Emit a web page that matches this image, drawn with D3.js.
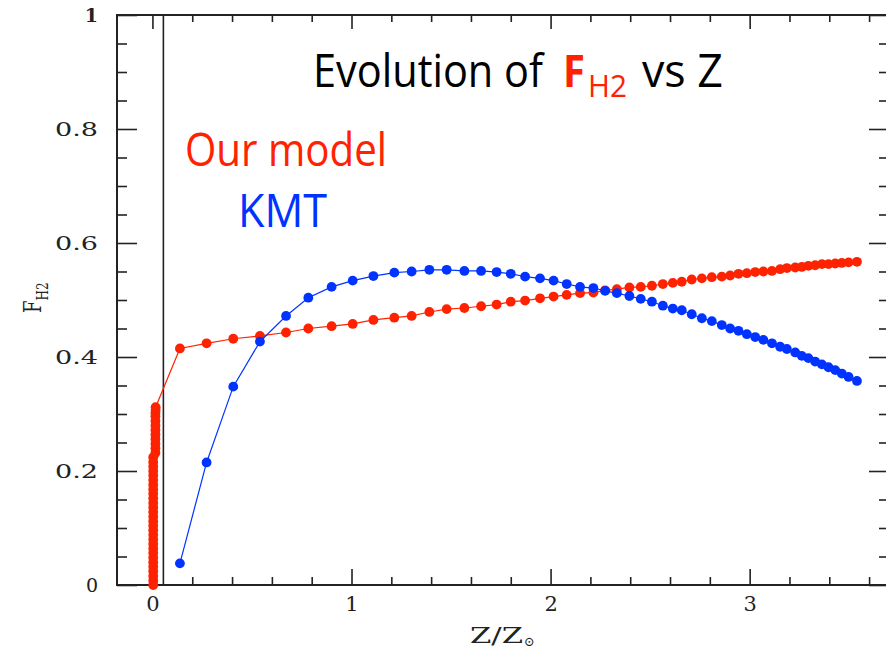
<!DOCTYPE html>
<html>
<head>
<meta charset="utf-8">
<script src="https://cdn.jsdelivr.net/npm/d3@7"></script>
<style>
  html, body { margin: 0; padding: 0; background: #fff; }
  svg { display: block; }
</style>
</head>
<body>
<div id="chart"></div>
<script>

// Z / Z_sun positions shared by both curves
const zVals = [0.138, 0.272, 0.406, 0.540, 0.671, 0.783, 0.900, 1.006, 1.110, 1.215,
               1.302, 1.391, 1.478, 1.567, 1.651, 1.729, 1.800, 1.872, 1.947, 2.015,
               2.081, 2.148, 2.215, 2.274, 2.333, 2.396, 2.453, 2.509, 2.564, 2.614,
               2.659, 2.709, 2.760, 2.810, 2.860, 2.902, 2.944, 2.986, 3.028, 3.069,
               3.112, 3.153, 3.187, 3.229, 3.262, 3.295, 3.329, 3.363, 3.396, 3.430,
               3.463, 3.497, 3.539];

// "Our model" F_H2
const modelF = [0.415, 0.424, 0.432, 0.437, 0.443, 0.450, 0.454, 0.458, 0.465, 0.469,
                0.472, 0.479, 0.484, 0.486, 0.489, 0.492, 0.497, 0.499, 0.503, 0.506,
                0.509, 0.512, 0.513, 0.517, 0.519, 0.522, 0.523, 0.525, 0.528, 0.530,
                0.532, 0.536, 0.538, 0.540, 0.541, 0.543, 0.546, 0.547, 0.549, 0.550,
                0.551, 0.554, 0.556, 0.557, 0.558, 0.560, 0.561, 0.563, 0.563, 0.564,
                0.565, 0.566, 0.567];

// KMT F_H2
const kmtF = [0.038, 0.215, 0.348, 0.427, 0.472, 0.504, 0.523, 0.534, 0.542, 0.548,
              0.550, 0.553, 0.553, 0.551, 0.551, 0.549, 0.546, 0.541, 0.538, 0.534,
              0.528, 0.523, 0.521, 0.516, 0.512, 0.507, 0.502, 0.497, 0.490, 0.485,
              0.482, 0.475, 0.468, 0.463, 0.456, 0.450, 0.446, 0.440, 0.435, 0.430,
              0.424, 0.418, 0.414, 0.408, 0.402, 0.398, 0.392, 0.387, 0.382, 0.377,
              0.371, 0.365, 0.358];

// the pile of model points sitting right on Z ~ 0 (two stacked columns)
const clumpZ = [0.004, 0.004, 0.004, 0.004, 0.004, 0.004, 0.004, 0.004, 0.004, 0.004,
                0.004, 0.004, 0.004, 0.004, 0.004, 0.004, 0.004, 0.004, 0.004, 0.004,
                0.004, 0.004, 0.004, 0.004, 0.004, 0.004, 0.004, 0.004, 0.004,
                0.015, 0.015, 0.015, 0.015, 0.015, 0.015, 0.015, 0.015, 0.015, 0.015,
                0.016, 0.016];
const clumpF = [0.000, 0.008, 0.016, 0.024, 0.032, 0.040, 0.048, 0.056, 0.064, 0.072,
                0.080, 0.088, 0.096, 0.104, 0.112, 0.120, 0.128, 0.136, 0.144, 0.152,
                0.160, 0.168, 0.176, 0.184, 0.192, 0.200, 0.208, 0.216, 0.224,
                0.232, 0.240, 0.248, 0.256, 0.264, 0.272, 0.280, 0.288, 0.296, 0.302,
                0.307, 0.312];

const refZ = 0.055;   // vertical marker line near zero

const yTicks = [0, 0.2, 0.4, 0.6, 0.8, 1];
const yTickLabels = ['0', '0.2', '0.4', '0.6', '0.8', '1'];
const xTicks = [0, 1, 2, 3];
const xTickLabels = ['0', '1', '2', '3'];

const RED = '#ff2200';
const BLUE = '#0033ff';
const INK = '#222';

const width = 886, height = 648;

const svg = d3.select('#chart')
    .append('svg')
    .attr('width', width)
    .attr('height', height);

const xScale = d3.scaleLinear().domain([-0.178, 3.70]).range([117, 889]);
const yScale = d3.scaleLinear().domain([0, 1]).range([585, 15]);

const x0 = xScale.range()[0], x1 = xScale.range()[1];
const y0 = yScale.range()[0], y1 = yScale.range()[1];

// minor tick positions
const yMinor = d3.range(0.05, 1, 0.05).filter(v => Math.abs(v * 5 - Math.round(v * 5)) > 1e-6);
const xMinor = d3.range(0.2, 3.7, 0.2).filter(v => Math.abs(v - Math.round(v)) > 1e-6);

const serif = "'DejaVu Serif', 'Liberation Serif', serif";

// ---- axes (ticks pointing inward) ----
function styleAxis(g) {
  g.select('.domain').remove();
  g.selectAll('line').attr('stroke', INK).attr('stroke-width', 1.6);
}

svg.append('g')
    .attr('transform', `translate(${x0},0)`)
    .call(d3.axisLeft(yScale).tickValues(yTicks).tickSize(-20).tickPadding(19)
      .tickFormat((d, i) => yTickLabels[i]))
    .call(styleAxis)
    .call(g => g.selectAll('text')
      .attr('font-family', serif)
      .attr('font-size', 19)
      .attr('fill', INK)
      .attr('font-weight', d => d === 1 ? 'bold' : 'normal')
      .attr('dy', '0.35em')
      .each(function(d, i) {
        if (yTickLabels[i].length > 1) {
          d3.select(this).attr('textLength', 43).attr('lengthAdjust', 'spacingAndGlyphs');
        }
      }));

svg.append('g')
    .attr('transform', `translate(${x0},0)`)
    .call(d3.axisLeft(yScale).tickValues(yMinor).tickSize(-10).tickFormat(''))
    .call(styleAxis);

svg.append('g')
    .attr('transform', `translate(${x1},0)`)
    .call(d3.axisRight(yScale).tickValues(yTicks).tickSize(-20).tickFormat(''))
    .call(styleAxis);

svg.append('g')
    .attr('transform', `translate(${x1},0)`)
    .call(d3.axisRight(yScale).tickValues(yMinor).tickSize(-10).tickFormat(''))
    .call(styleAxis);

svg.append('g')
    .attr('transform', `translate(0,${y0})`)
    .call(d3.axisBottom(xScale).tickValues(xTicks).tickSize(-16).tickPadding(11)
      .tickFormat((d, i) => xTickLabels[i]))
    .call(styleAxis)
    .call(g => g.selectAll('text')
      .attr('font-family', serif)
      .attr('font-size', 21)
      .attr('fill', INK));

svg.append('g')
    .attr('transform', `translate(0,${y0})`)
    .call(d3.axisBottom(xScale).tickValues(xMinor).tickSize(-8).tickFormat(''))
    .call(styleAxis);

svg.append('g')
    .attr('transform', `translate(0,${y1})`)
    .call(d3.axisTop(xScale).tickValues(xTicks).tickSize(-14).tickFormat(''))
    .call(styleAxis);

svg.append('g')
    .attr('transform', `translate(0,${y1})`)
    .call(d3.axisTop(xScale).tickValues(xMinor).tickSize(-7).tickFormat(''))
    .call(styleAxis);

// frame
svg.append('rect')
    .attr('x', x0).attr('y', y1)
    .attr('width', x1 - x0).attr('height', y0 - y1)
    .attr('fill', 'none')
    .attr('stroke', INK)
    .attr('stroke-width', 2);

// vertical reference line
svg.append('line')
    .attr('x1', xScale(refZ)).attr('x2', xScale(refZ))
    .attr('y1', y1).attr('y2', y0)
    .attr('stroke', INK)
    .attr('stroke-width', 1.6);

// ---- series ----
const modelPts = clumpZ.map((z, i) => ({ z: z, f: clumpF[i] }))
    .concat(zVals.map((z, i) => ({ z: z, f: modelF[i] })));
const kmtPts = zVals.map((z, i) => ({ z: z, f: kmtF[i] }));

const line = d3.line()
    .x(d => xScale(d.z))
    .y(d => yScale(d.f));

function drawSeries(pts, color) {
  const g = svg.append('g');
  g.append('path')
      .datum(pts)
      .attr('d', line)
      .attr('fill', 'none')
      .attr('stroke', color)
      .attr('stroke-width', 1.2);
  g.selectAll('circle')
      .data(pts)
      .enter()
      .append('circle')
        .attr('cx', d => xScale(d.z))
        .attr('cy', d => yScale(d.f))
        .attr('r', 4.9)
        .attr('fill', color);
}

drawSeries(modelPts, RED);
drawSeries(kmtPts, BLUE);

// ---- axis titles ----
svg.append('text')
    .attr('x', 470)
    .attr('y', 643)
    .attr('font-family', serif)
    .attr('font-size', 22)
    .attr('fill', INK)
    .attr('textLength', 53)
    .attr('lengthAdjust', 'spacingAndGlyphs')
    .text('Z/Z');
svg.append('text')
    .attr('x', 524)
    .attr('y', 646)
    .attr('font-family', serif)
    .attr('font-size', 13)
    .attr('fill', INK)
    .text('\u2299');

const yLab = svg.append('text')
    .attr('transform', 'translate(41,313) scale(1.35,1) rotate(-90)')
    .attr('font-family', serif)
    .attr('font-size', 18)
    .attr('fill', INK);
yLab.append('tspan').text('F');
yLab.append('tspan').attr('font-size', 12).attr('dy', 5).text('H2');

// ---- annotations ----
const hand = "'Comic Sans MS', 'Open Sans', sans-serif";

function note(x, y, str, size, color, len, weight) {
  svg.append('text')
      .attr('x', x)
      .attr('y', y)
      .attr('font-family', hand)
      .attr('font-size', size)
      .attr('font-weight', weight || 'normal')
      .attr('fill', color)
      .attr('textLength', len)
      .attr('lengthAdjust', 'spacingAndGlyphs')
      .text(str);
}

note(313, 87, 'Evolution of', 45, '#000', 230);
note(563, 87, 'F', 45, RED, 22, 'bold');
note(588, 97, 'H2', 31, RED, 39);
note(642, 87, 'vs Z', 45, '#000', 81);

note(185, 166, 'Our model', 45, RED, 202);
note(238, 227, 'KMT', 45, BLUE, 89);

</script>
</body>
</html>
